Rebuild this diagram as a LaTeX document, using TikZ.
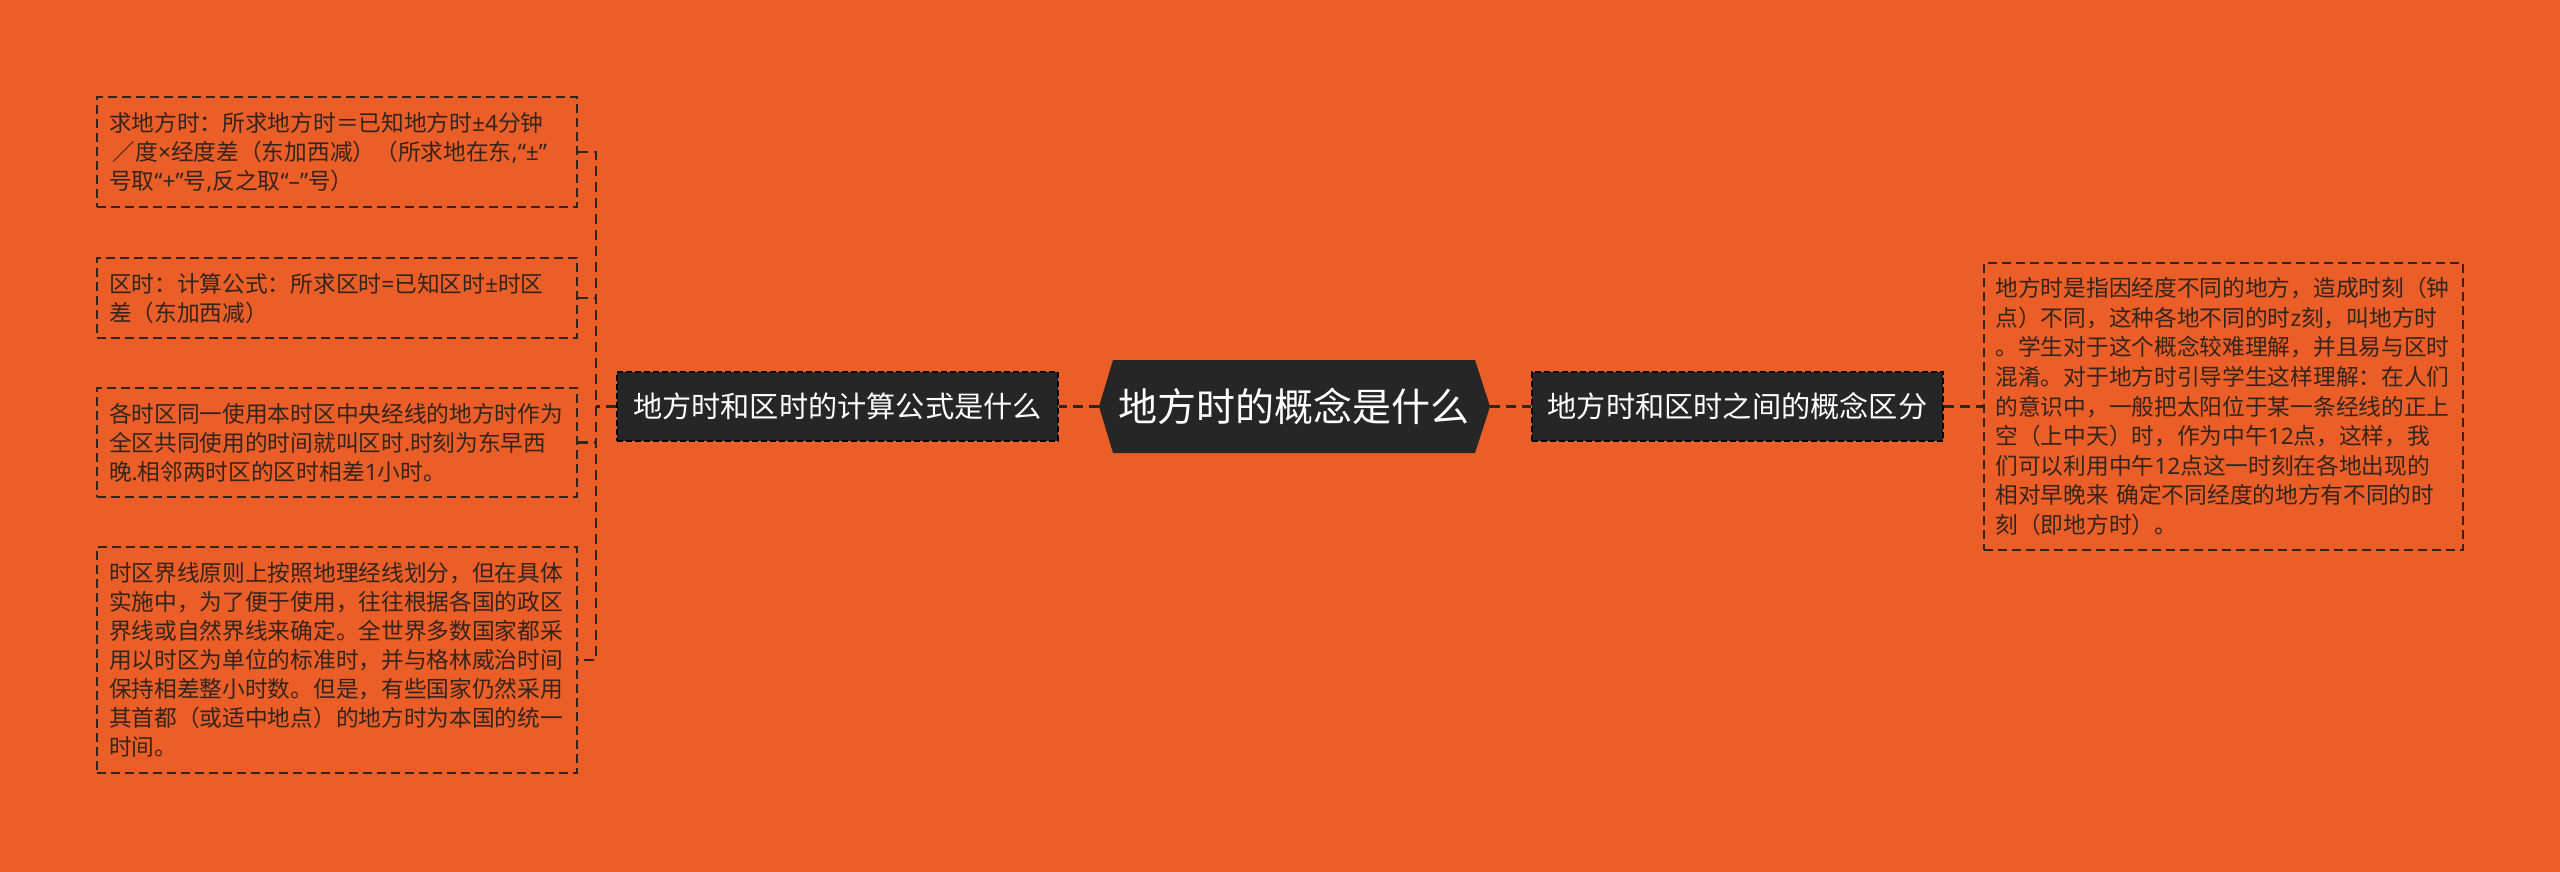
\documentclass[tikz,border=0pt]{standalone}
\usepackage{fontspec}
\setmainfont{Noto Sans CJK SC}
\newfontfamily\lat{Noto Sans}
\usetikzlibrary{calc}
\definecolor{bgor}{HTML}{EB5E28}
\definecolor{darkfill}{HTML}{262626}
\definecolor{inkc}{HTML}{33251E}
\newcommand{\lt}[1]{{\lat #1}}
\tikzset{
  dline/.style={draw=inkc, line width=2.2pt, dash pattern=on 10pt off 6pt},
  leafbox/.style={draw=inkc, line width=1.6pt, dash pattern=on 9pt off 5pt,
    minimum width=480pt, inner sep=0pt, text width=456pt, align=left,
    text=inkc, font=\fontsize{22.7}{29}\selectfont},
  branchbox/.style={fill=darkfill, draw=black, line width=1.4pt, dash pattern=on 6pt off 3pt,
    minimum height=69pt, inner sep=0pt, text=white, font=\fontsize{29.2}{34}\selectfont},
  centernode/.style={minimum width=362pt, minimum height=93pt, inner sep=0pt, text=white,
    font=\fontsize{39}{44}\selectfont}
}
\begin{document}
\begin{tikzpicture}[x=1pt,y=-1pt]
\useasboundingbox (0,0) rectangle (2560,872);
\fill[bgor] (0,0) rectangle (2560,872);

% central hexagon
\coordinate (cc) at (1294,406.5);
\fill[darkfill] ($(cc)+(-195,0)$) -- ($(cc)+(-181,-46.5)$) -- ($(cc)+(181,-46.5)$)
  -- ($(cc)+(196,0)$) -- ($(cc)+(181,46.5)$) -- ($(cc)+(-181,46.5)$) -- cycle;
\node[centernode] (c) at (cc) {地方时的概念是什么};
\coordinate (cW) at ($(cc)+(-195,0)$);
\coordinate (cE) at ($(cc)+(196,0)$);

% branch nodes
\node[branchbox, minimum width=441pt] (L) at (837.5,406.5) {地方时和区时的计算公式是什么};
\node[branchbox, minimum width=411pt] (R) at (1737.5,406.5) {地方时和区时之间的概念区分};

% leaf boxes left
\node[leafbox, minimum height=110pt] (b1) at (337,152) {求地方时：所求地方时＝已知地方时\lt{±4}分钟\\\,／度\lt{×}经度差（东加西减）（所求地在东\lt{,“±”}\\号取\lt{“+”}号\lt{,}反之取\lt{“–”}号）};
\node[leafbox, minimum height=80pt] (b2) at (337,298) {区时：计算公式：所求区时\lt{=}已知区时\lt{±}时区\\差（东加西减）};
\node[leafbox, minimum height=109pt] (b3) at (337,442.5) {各时区同一使用本时区中央经线的地方时作为\\全区共同使用的时间就叫区时\lt{.}时刻为东早西\\晚\lt{.}相邻两时区的区时相差\lt{1}小时。};
\node[leafbox, minimum height=226pt] (b4) at (337,660) {时区界线原则上按照地理经线划分，但在具体\\实施中，为了便于使用，往往根据各国的政区\\界线或自然界线来确定。全世界多数国家都采\\用以时区为单位的标准时，并与格林威治时间\\保持相差整小时数。但是，有些国家仍然采用\\其首都（或适中地点）的地方时为本国的统一\\时间。};

% right leaf box
\node[leafbox, minimum width=479pt, minimum height=287pt, font=\fontsize{22.7}{29.6}\selectfont] (r1) at (2223.5,406.5) {地方时是指因经度不同的地方，造成时刻（钟\\点）不同，这种各地不同的时\lt{z}刻，叫地方时\\。学生对于这个概念较难理解，并且易与区时\\混淆。对于地方时引导学生这样理解：在人们\\的意识中，一般把太阳位于某一条经线的正上\\空（上中天）时，作为中午\lt{12}点，这样，我\\们可以利用中午\lt{12}点这一时刻在各地出现的\\相对早晚来 确定不同经度的地方有不同的时\\刻（即地方时）。};

% connectors
\coordinate (bx) at (596,406.5);
\draw[dline] (cW) -- (L.east);
\draw[dline] (cE) -- (R.west);
\draw[dline] (R.east) -- (r1.west);
\draw[dline] (L.west) -- (bx);
\draw[dline] (b1.east) -- (b1.east -| bx) -- (b4.east -| bx) -- (b4.east);
\draw[dline] (b2.east) -- (b2.east -| bx);
\draw[dline] (b3.east) -- (b3.east -| bx);
\end{tikzpicture}
\end{document}
